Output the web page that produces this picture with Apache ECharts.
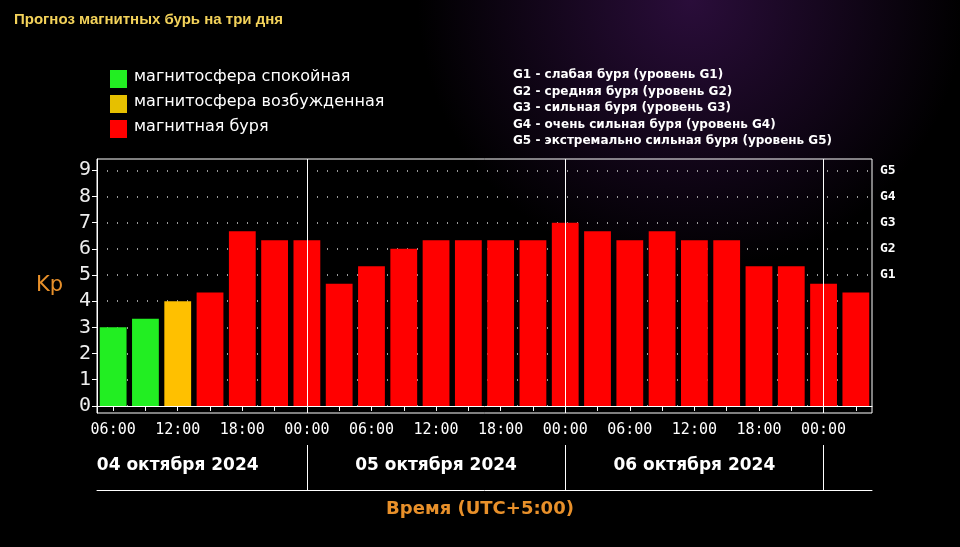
<!DOCTYPE html>
<html>
<head>
<meta charset="utf-8">
<script src="https://cdn.jsdelivr.net/npm/echarts@6/dist/echarts.min.js"></script>
<style>html,body{margin:0;padding:0;background:#000}#chart{width:960px;height:547px}</style>
</head>
<body>
<div id="chart"></div>
<script>
// Данные прогноза Kp (3-часовые интервалы)
const times = ['06:00','09:00','12:00','15:00','18:00','21:00','00:00','03:00','06:00','09:00','12:00','15:00',
               '18:00','21:00','00:00','03:00','06:00','09:00','12:00','15:00','18:00','21:00','00:00','03:00'];
const kpValues = [3, 3.33, 4, 4.33, 6.67, 6.33, 6.33, 4.67, 5.33, 6, 6.33, 6.33,
                  6.33, 6.33, 7, 6.67, 6.33, 6.67, 6.33, 6.33, 5.33, 5.33, 4.67, 4.33];
const days = ['04 октября 2024', '05 октября 2024', '06 октября 2024'];
const gLabels = ['G1', 'G2', 'G3', 'G4', 'G5'];
const gDefs = [
    'G1 - слабая буря (уровень G1)',
    'G2 - средняя буря (уровень G2)',
    'G3 - сильная буря (уровень G3)',
    'G4 - очень сильная буря (уровень G4)',
    'G5 - экстремально сильная буря (уровень G5)'
];
const legendItems = [
    ['#22ee22', 'магнитосфера спокойная'],
    ['#e6c000', 'магнитосфера возбужденная'],
    ['#ff0000', 'магнитная буря']
];

const COLORS = { green: '#22ee22', yellow: '#ffc000', red: '#ff0000', orange: '#e8902a' };

function barColor(v) {
    if (v < 4) return COLORS.green;
    if (v < 4.33) return COLORS.yellow;
    return COLORS.red;
}

const chart = echarts.init(document.getElementById('chart'));
const MONO = 'DejaVu Sans Mono';

const option = {
    backgroundColor: new echarts.graphic.RadialGradient(0.72, 0, 0.5, [
        { offset: 0, color: '#2a0d3a' },
        { offset: 1, color: '#000000' }
    ]),
    animation: false,
    grid: [
        { left: 97, right: 88, top: 159, bottom: 134, show: true, borderColor: '#ffffff', borderWidth: 1 },
        { left: 97, right: 88, top: 445, bottom: 57 }
    ],
    xAxis: [{
        type: 'category',
        data: times,
        gridIndex: 0,
        axisLine: { lineStyle: { color: '#ffffff' } },
        axisTick: { show: true, alignWithLabel: true, interval: 0, lineStyle: { color: '#ffffff' } },
        axisLabel: { color: '#ffffff', fontFamily: MONO, fontSize: 15, interval: 1, margin: 10 }
    }, {
        type: 'category',
        data: times,
        gridIndex: 1,
        axisLine: { show: true, lineStyle: { color: '#ffffff' } },
        axisTick: { show: false },
        axisLabel: { show: false }
    }],
    yAxis: [{
        type: 'value',
        gridIndex: 0,
        min: -0.27,
        max: 9.43,
        name: 'Kp',
        nameLocation: 'middle',
        nameGap: 34,
        nameRotate: 0,
        nameTextStyle: { color: COLORS.orange, fontSize: 21, fontFamily: 'DejaVu Sans' },
        axisLine: { show: true, lineStyle: { color: '#ffffff' } },
        axisTick: { show: true, customValues: [0,1,2,3,4,5,6,7,8,9], lineStyle: { color: '#ffffff' } },
        axisLabel: { color: '#eeeeee', fontFamily: MONO, fontSize: 20, customValues: [0,1,2,3,4,5,6,7,8,9], margin: 6 },
        splitLine: { show: true, lineStyle: { color: '#cccccc', type: [1, 9], width: 1.5 } }
    }, {
        type: 'value',
        gridIndex: 0,
        position: 'right',
        min: -0.27,
        max: 9.43,
        axisLine: { show: false },
        axisTick: { show: false },
        splitLine: { show: false },
        axisLabel: {
            color: '#ffffff', fontFamily: 'DejaVu Sans Mono', fontWeight: 'bold', fontSize: 13, margin: 8,
            customValues: [5,6,7,8,9],
            formatter: v => gLabels[Math.round(v) - 5] || ''
        }
    }, {
        type: 'value', gridIndex: 1, min: 0, max: 1, show: false
    }],
    series: [{
        type: 'bar',
        data: kpValues.map(v => ({ value: v, itemStyle: { color: barColor(v) } })),
        barCategoryGap: '17%',
        markLine: {
            symbol: 'none', silent: true, label: { show: false },
            lineStyle: { color: '#ffffff', type: 'solid', width: 1 },
            data: [{ xAxis: 6 }, { xAxis: 14 }, { xAxis: 22 }]
        }
    }, {
        type: 'bar', xAxisIndex: 1, yAxisIndex: 2, data: [],
        markLine: {
            symbol: 'none', silent: true, label: { show: false },
            lineStyle: { color: '#ffffff', type: 'solid', width: 1 },
            data: [{ xAxis: 6 }, { xAxis: 14 }, { xAxis: 22 }]
        }
    }],
    graphic: [
        { type: 'text', left: 14, top: 12, style: { text: 'Прогноз магнитных бурь на три дня', fill: '#f3d25a', font: 'bold 15px "Liberation Sans"' } },
        ...legendItems.flatMap(([c, t], i) => [
            { type: 'rect', shape: { x: 110, y: 70 + i * 25, width: 17, height: 18 }, style: { fill: c } },
            { type: 'text', left: 134, top: 69 + i * 25, style: { text: t, fill: '#ffffff', font: '16px "DejaVu Sans"' } }
        ]),
        ...gDefs.map((t, i) => ({ type: 'text', left: 513, top: 69 + i * 16.5, style: { text: t, fill: '#ffffff', font: 'bold 12px "DejaVu Sans"' } })),
        { type: 'text', left: 'center', top: 500, style: { text: 'Время (UTC+5:00)', fill: COLORS.orange, font: 'bold 18px "DejaVu Sans"' } }
    ]
};

chart.setOption(option);

// Подписи дат (позиции по категориям)
const dayCenters = [1.75, 9.75, 17.7];
chart.setOption({
    graphic: option.graphic.concat(days.map((d, i) => {
        const x = chart.convertToPixel({ xAxisIndex: 1 }, dayCenters[i]);
        return { type: 'text', x: x, y: 457, style: { text: d, fill: '#ffffff', font: 'bold 17px "DejaVu Sans"', textAlign: 'center' } };
    }))
});
</script>
</body>
</html>
